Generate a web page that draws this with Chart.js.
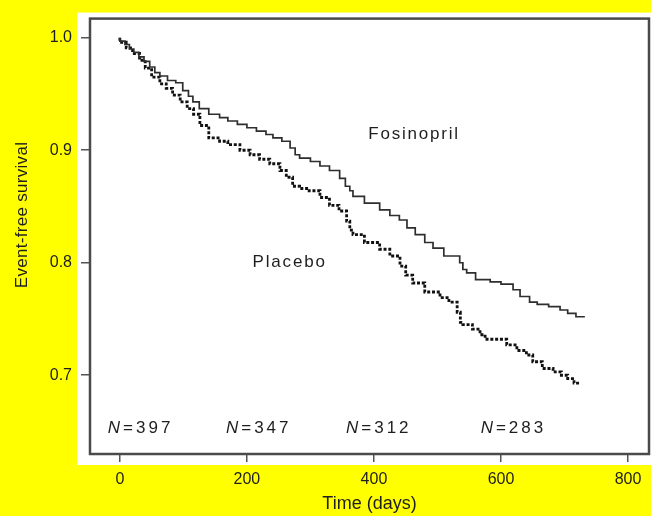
<!DOCTYPE html>
<html>
<head>
<meta charset="utf-8">
<script src="https://cdn.jsdelivr.net/npm/chart.js@4"></script>
<style>
  html, body { margin: 0; padding: 0; background: #ffff00; }
  #wrap { width: 651px; height: 516px; }
</style>
</head>
<body>
<div id="wrap"><canvas id="c" width="651" height="516"></canvas></div>
<script>
// ---- Data ----
const fosinoprilDays = [0, 8, 15, 22, 30, 38, 47, 55, 63, 75, 88, 99, 108, 115, 125, 140, 157, 170, 185, 200, 215, 230, 241, 255, 268, 276, 283, 300, 315, 330, 346, 355, 362, 367, 385, 409, 425, 440, 452, 465, 480, 493, 510, 535, 540, 546, 560, 583, 600, 619, 630, 645, 657, 675, 693, 705, 718, 732];
const fosinoprilSurvival = [1.000, 0.997, 0.994, 0.990, 0.987, 0.983, 0.979, 0.974, 0.969, 0.966, 0.962, 0.960, 0.953, 0.948, 0.943, 0.937, 0.932, 0.929, 0.926, 0.923, 0.920, 0.917, 0.914, 0.911, 0.908, 0.902, 0.896, 0.893, 0.890, 0.886, 0.882, 0.875, 0.868, 0.864, 0.859, 0.853, 0.847, 0.842, 0.838, 0.831, 0.825, 0.818, 0.813, 0.806, 0.800, 0.794, 0.791, 0.785, 0.783, 0.781, 0.776, 0.770, 0.765, 0.763, 0.761, 0.758, 0.755, 0.752];

const placeboDays = [0, 10, 20, 31, 40, 50, 63, 73, 83, 95, 106, 116, 126, 140, 157, 170, 189, 205, 220, 236, 252, 262, 272, 283, 298, 315, 330, 345, 357, 362, 367, 385, 409, 425, 441, 450, 461, 480, 504, 518, 531, 536, 540, 555, 567, 575, 583, 595, 609, 625, 640, 650, 665, 682, 695, 705, 715, 724];
const placeboSurvival = [1.000, 0.996, 0.991, 0.986, 0.980, 0.973, 0.965, 0.959, 0.955, 0.949, 0.943, 0.937, 0.932, 0.922, 0.911, 0.908, 0.905, 0.900, 0.896, 0.892, 0.888, 0.882, 0.876, 0.868, 0.866, 0.864, 0.858, 0.851, 0.846, 0.837, 0.829, 0.825, 0.818, 0.812, 0.806, 0.797, 0.789, 0.782, 0.774, 0.769, 0.765, 0.756, 0.747, 0.745, 0.741, 0.736, 0.732, 0.732, 0.732, 0.727, 0.722, 0.718, 0.712, 0.706, 0.703, 0.700, 0.697, 0.693];

const xTickValues = [0, 200, 400, 600, 800];
const yTickValues = [0.7, 0.8, 0.9, 1.0];

const seriesLabels = ['Fosinopril', 'Placebo'];
const atRiskDays = [-19, 167, 356, 568];
const atRiskCounts = [397, 347, 312, 283];
const atRiskLevel = 0.6526;
const seriesLabelPos = [{x: 391, y: 0.914}, {x: 209, y: 0.800}];

const axisTitleX = 'Time (days)';
const axisTitleY = 'Event-free survival';

// ---- Build ----
const toPoints = (xs, ys) => xs.map((x, i) => ({x: x, y: ys[i]}));

const decor = {
  id: 'decor',
  beforeDraw(chart) {
    const {ctx, chartArea: a} = chart;
    ctx.save();
    ctx.fillStyle = '#ffff00';
    ctx.fillRect(0, 0, chart.width, chart.height);
    ctx.fillStyle = '#ffffff';
    ctx.fillRect(a.left - 13, a.top - 6, chart.width - (a.left - 13), a.bottom + 11 - (a.top - 6));
    ctx.restore();
  },
  afterDraw(chart) {
    const {ctx, chartArea: a, scales} = chart;
    ctx.save();
    // frame
    ctx.strokeStyle = '#4a4a4a';
    ctx.lineWidth = 2.5;
    ctx.strokeRect(a.left, a.top, a.right - a.left, a.bottom - a.top);
    // series labels
    ctx.fillStyle = '#1e1e1e';
    ctx.font = '17px "Liberation Sans", Arial, sans-serif';
    ctx.letterSpacing = '1.8px';
    ctx.textBaseline = 'middle';
    ctx.textAlign = 'left';
    seriesLabels.forEach((t, i) => {
      ctx.fillText(t, scales.x.getPixelForValue(seriesLabelPos[i].x), scales.y.getPixelForValue(seriesLabelPos[i].y));
    });
    // at-risk labels
    ctx.letterSpacing = '3px';
    const yy = scales.y.getPixelForValue(atRiskLevel);
    atRiskDays.forEach((d, i) => {
      let x = scales.x.getPixelForValue(d);
      ctx.font = 'italic 17px "Liberation Sans", Arial, sans-serif';
      ctx.fillText('N', x, yy);
      x += ctx.measureText('N').width;
      ctx.font = '17px "Liberation Sans", Arial, sans-serif';
      ctx.fillText('=' + atRiskCounts[i], x, yy);
    });
    // y axis title
    ctx.letterSpacing = '0.3px';
    ctx.font = '17px "Liberation Sans", Arial, sans-serif';
    ctx.textAlign = 'center';
    ctx.translate(22, 215);
    ctx.rotate(-Math.PI / 2);
    ctx.fillText(axisTitleY, 0, 0);
    ctx.restore();
  }
};

const tickFont = {family: '"Liberation Sans", Arial, sans-serif', size: 16};

new Chart(document.getElementById('c'), {
  type: 'line',
  data: {
    datasets: [
      {
        label: seriesLabels[0],
        data: toPoints(fosinoprilDays, fosinoprilSurvival),
        stepped: 'after',
        borderColor: '#2e2e2e',
        borderWidth: 1.7,
        pointRadius: 0,
        fill: false
      },
      {
        label: seriesLabels[1],
        data: toPoints(placeboDays, placeboSurvival),
        stepped: 'after',
        borderColor: '#111111',
        borderWidth: 2.8,
        borderDash: [3, 1.8],
        pointRadius: 0,
        fill: false
      }
    ]
  },
  options: {
    responsive: false,
    animation: false,
    devicePixelRatio: 1,
    layout: {padding: {left: 0, top: 13, right: 2, bottom: 0}},
    plugins: {legend: {display: false}, tooltip: {enabled: false}},
    scales: {
      x: {
        type: 'linear',
        min: -47,
        max: 833,
        afterBuildTicks(s) { s.ticks = xTickValues.map(v => ({value: v})); },
        afterFit(s) { s.height = 62; },
        grid: {drawOnChartArea: false, drawTicks: true, tickLength: 8, color: '#555', lineWidth: 1.5},
        border: {display: false},
        ticks: {font: tickFont, color: '#1e1e1e', padding: 8, maxRotation: 0, autoSkip: false, callback: v => String(v)},
        title: {display: true, text: axisTitleX, font: {family: '"Liberation Sans", Arial, sans-serif', size: 18}, color: '#1e1e1e', padding: {top: 0, bottom: 1}}
      },
      y: {
        type: 'linear',
        min: 0.63,
        max: 1.017,
        afterBuildTicks(s) { s.ticks = yTickValues.map(v => ({value: v})); },
        afterFit(s) { s.width = 90; },
        grid: {drawOnChartArea: false, drawTicks: true, tickLength: 9, color: '#555', lineWidth: 1.5},
        border: {display: false},
        ticks: {font: tickFont, color: '#1e1e1e', padding: 9, autoSkip: false, callback: v => v.toFixed(1)}
      }
    }
  },
  plugins: [decor]
});
</script>
</body>
</html>
